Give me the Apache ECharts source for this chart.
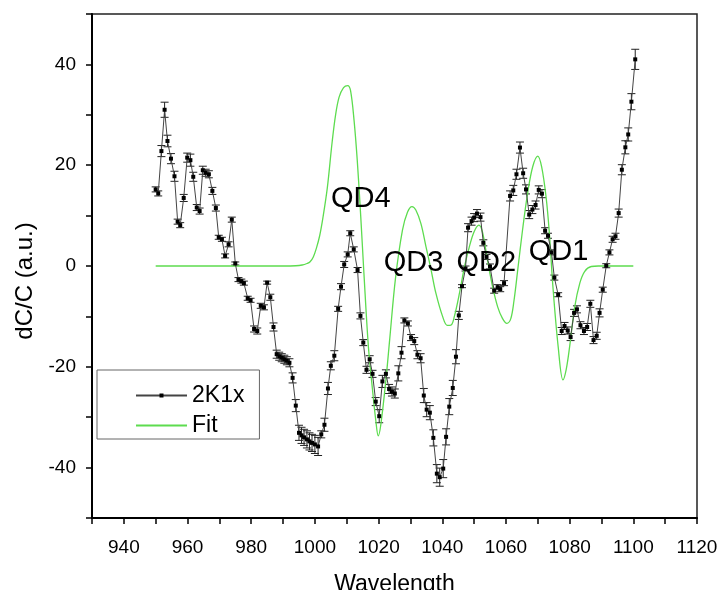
<!DOCTYPE html>
<html><head><meta charset="utf-8">
<script src="https://cdn.jsdelivr.net/npm/echarts@6/dist/echarts.min.js"></script>
<style>html,body{margin:0;padding:0;background:#fff}#c{width:719px;height:590px}</style>
</head><body><div id="c"></div>
<script>
// measured data (2K1x) : wavelength, dC/C and error
const wavelength = [950.0,950.8,951.8,952.8,953.7,954.8,955.9,956.9,957.7,958.8,959.9,960.9,961.8,962.9,963.8,964.8,965.7,966.7,967.8,968.9,969.8,970.8,971.8,972.9,973.9,975.0,976.0,976.9,977.7,978.9,979.8,980.9,981.9,983.0,984.0,985.0,986.0,987.0,988.0,988.8,989.6,990.4,991.2,992.0,993.0,994.0,995.0,995.8,996.6,997.5,998.3,999.1,1000.0,1001.0,1002.0,1003.0,1004.1,1005.0,1006.1,1007.3,1008.2,1009.2,1010.3,1011.1,1012.2,1013.4,1014.3,1015.2,1016.2,1017.2,1018.1,1019.1,1020.2,1021.2,1022.3,1023.3,1024.2,1025.1,1026.2,1027.2,1028.1,1029.2,1030.2,1031.2,1032.2,1033.2,1034.2,1035.1,1036.1,1037.2,1038.3,1039.2,1040.3,1041.2,1042.2,1043.3,1044.3,1045.2,1046.2,1047.3,1048.1,1049.2,1050.0,1050.9,1052.0,1052.9,1053.9,1055.0,1056.3,1057.4,1058.2,1059.4,1061.3,1062.3,1063.3,1064.4,1065.4,1066.3,1067.3,1068.3,1069.3,1070.3,1071.3,1072.3,1073.2,1074.3,1075.2,1076.4,1077.5,1078.4,1079.4,1080.3,1081.4,1082.3,1083.4,1084.5,1085.5,1086.5,1087.5,1088.5,1089.4,1090.4,1091.5,1092.5,1093.5,1094.4,1095.4,1096.4,1097.5,1098.4,1099.4,1100.6];
const dcc = [15.2,14.4,22.8,31.0,24.8,21.3,17.8,8.8,8.1,13.5,21.5,21.0,17.7,11.6,10.9,19.0,18.5,18.2,14.9,11.5,5.7,5.3,2.0,4.3,9.2,0.5,-2.7,-3.0,-3.4,-6.4,-6.8,-12.5,-12.9,-7.9,-8.2,-3.3,-6.2,-12.1,-17.5,-17.9,-18.2,-18.5,-18.8,-19.2,-22.2,-27.7,-33.1,-33.6,-34.0,-34.4,-34.8,-35.1,-35.4,-35.8,-33.4,-31.5,-24.3,-19.8,-17.8,-8.5,-4.1,0.3,2.3,6.5,3.3,-0.8,-9.9,-15.2,-20.6,-18.5,-21.4,-26.9,-29.8,-22.9,-21.4,-24.4,-24.9,-25.3,-21.3,-17.2,-10.8,-11.4,-14.2,-14.9,-17.6,-18.3,-25.7,-28.5,-29.1,-34.1,-41.2,-41.9,-40.2,-33.9,-27.9,-24.2,-18.0,-9.8,-4.0,-0.5,7.6,8.9,9.6,10.4,9.7,4.6,1.8,-0.1,-4.9,-4.2,-4.6,-3.4,13.9,15.0,18.2,23.5,18.4,15.2,10.2,11.2,12.1,15.1,14.35,7.0,6.0,2.7,-2.3,-5.7,-12.9,-11.9,-12.8,-14.1,-9.3,-8.6,-11.75,-12.9,-12.1,-7.5,-14.7,-13.85,-9.3,-4.7,0.05,2.7,5.3,5.9,10.5,19.1,23.55,26.1,32.6,41.0];
const dccErr = [0.5,0.5,1.1,1.5,1.15,1.0,1.0,0.5,0.5,0.7,0.9,1.2,0.9,0.6,0.6,0.8,0.7,0.7,0.7,0.6,0.4,0.4,0.4,0.5,0.5,0.3,0.4,0.4,0.4,0.4,0.4,0.6,0.6,0.5,0.5,0.3,0.6,0.8,0.8,0.8,0.8,0.8,0.8,0.8,1.0,1.2,1.5,1.6,1.6,1.7,1.7,1.7,1.8,1.8,0.7,1.3,1.2,0.8,1.0,0.5,0.6,0.6,0.5,0.5,0.5,0.5,0.6,0.6,0.7,0.7,0.7,0.8,1.3,1.2,0.8,0.9,0.9,0.9,1.5,1.2,0.5,0.5,0.6,0.7,0.8,0.9,1.4,1.4,1.4,1.6,1.8,1.8,1.8,1.6,1.6,1.5,1.4,0.8,0.3,0.5,0.8,0.8,0.8,0.8,0.8,0.6,0.5,0.5,0.5,0.5,0.5,0.5,1.0,1.0,1.0,1.1,1.0,0.9,0.8,0.8,0.8,0.8,0.8,0.6,0.5,0.5,0.5,0.4,0.7,0.7,0.7,0.7,0.7,0.7,0.7,0.7,0.7,0.7,0.7,0.7,0.8,0.5,0.4,0.5,0.6,0.6,0.8,1.0,1.3,1.3,1.6,2.0];

// fit curve
const fitX = [950,970,990,994,996,997.5,998.5,999.5,1000.5,1001.5,1002.5,1003.9,1005.4,1006.5,1007.6,1009,1010.3,1011.2,1012.3,1013.3,1014.4,1015.4,1016.8,1018.1,1019.1,1019.9,1020.7,1022.3,1023.5,1025.3,1027.5,1029.1,1030.5,1031.7,1033.3,1034.9,1036.5,1038.0,1040.1,1041.6,1042.8,1043.8,1045.4,1047.0,1048.5,1050.0,1051.5,1052.6,1054.2,1055.8,1057.4,1058.9,1060.3,1061.5,1062.5,1063.7,1065.2,1066.8,1068.4,1070.0,1071.2,1072.6,1073.6,1074.8,1076.4,1077.9,1078.9,1080.0,1081.6,1083.2,1084.7,1086.8,1089,1095,1100];
const fitY = [0,0,0,0.05,0.2,0.5,0.85,1.8,3.6,6.0,9.5,15.5,24.5,30.0,33.5,35.4,35.8,34.8,28.9,21.0,9.8,-1.5,-16.0,-24.6,-30.5,-33.7,-31.5,-22.6,-14.5,-2.5,7.1,10.7,11.8,11.1,8.4,3.8,-0.8,-5.4,-10.0,-11.8,-11.7,-10.0,-5.4,-0.1,3.8,6.8,8.1,6.8,1.2,-4.1,-8.1,-10.4,-11.4,-10.5,-7.0,-0.8,7.1,14.4,19.7,21.8,19.7,13.7,6.8,-4.5,-16.0,-22.6,-20.6,-16.0,-8.1,-3.4,-1.1,-0.1,0,0,0];

// annotation labels (text, anchor in data coordinates)
const annotations = [
  {text: 'QD4', x: 1014.4, y: 13.3},
  {text: 'QD3', x: 1031.0, y: 0.5},
  {text: 'QD2', x: 1053.8, y: 0.5},
  {text: 'QD1', x: 1076.5, y: 2.8}
];

const FONT = '"Liberation Sans", Arial, sans-serif';
const chart = echarts.init(document.getElementById('c'), null, {renderer: 'canvas'});

const measured = wavelength.map((x, i) => [x, dcc[i]]);
const errData = wavelength.map((x, i) => [x, dcc[i], dccErr[i]]);
const fitData = fitX.map((x, i) => [x, fitY[i]]);

chart.setOption({
  animation: false,
  backgroundColor: '#fff',
  textStyle: {fontFamily: FONT},
  grid: {left: 92, right: 22, top: 14, bottom: 72, show: true, borderColor: '#222', borderWidth: 1.5,
         containLabel: false, outerBoundsMode: 'none'},
  legend: {
    orient: 'vertical', left: 97, top: 370,
    padding: [14, 15, 2, 38],
    itemWidth: 51, itemHeight: 5, itemGap: 7,
    borderColor: '#666', borderWidth: 1,
    textStyle: {fontSize: 23, lineHeight: 23, color: '#000', fontFamily: FONT},
    data: [{name: '2K1x'}, {name: 'Fit', itemStyle: {opacity: 0}}]
  },
  xAxis: {
    type: 'value', min: 930, max: 1120, interval: 10,
    name: 'Wavelength', nameLocation: 'middle', nameGap: 55,
    nameTextStyle: {fontSize: 23, color: '#000', fontFamily: FONT},
    axisLine: {onZero: false, lineStyle: {color: '#000', width: 2}},
    axisTick: {inside: false, length: 6, lineStyle: {color: '#000', width: 1.5}},
    axisLabel: {fontSize: 19, color: '#000', margin: 20, fontFamily: FONT,
      formatter: v => ((v - 940) % 20 === 0 ? String(v) : '')},
    splitLine: {show: false}
  },
  yAxis: {
    type: 'value', min: -50, max: 50, interval: 10,
    name: 'dC/C (a.u.)', nameLocation: 'middle', nameGap: 53, nameRotate: 90,
    nameTextStyle: {fontSize: 24, color: '#000', fontFamily: FONT, padding: [0, 30, 0, 0]},
    axisLine: {onZero: false, lineStyle: {color: '#000', width: 2}},
    axisTick: {inside: false, length: 6, lineStyle: {color: '#000', width: 1.5}},
    axisLabel: {fontSize: 19, color: '#000', margin: 16, fontFamily: FONT,
      formatter: v => (v % 20 === 0 ? String(v) : '')},
    splitLine: {show: false}
  },
  series: [
    {
      name: 'err', type: 'custom', silent: true, z: 2,
      data: errData,
      encode: {x: 0, y: 1},
      renderItem: function (params, api) {
        const x = api.value(0), y = api.value(1), e = api.value(2);
        const t = api.coord([x, y + e]);
        const b = api.coord([x, y - e]);
        const hw = 4;
        const st = {stroke: '#222', lineWidth: 1};
        return {type: 'group', children: [
          {type: 'line', shape: {x1: t[0], y1: t[1], x2: b[0], y2: b[1]}, style: st},
          {type: 'line', shape: {x1: t[0] - hw, y1: t[1], x2: t[0] + hw, y2: t[1]}, style: st},
          {type: 'line', shape: {x1: b[0] - hw, y1: b[1], x2: b[0] + hw, y2: b[1]}, style: st}
        ]};
      }
    },
    {
      name: 'Fit', type: 'line', data: fitData, z: 3,
      symbol: 'none', smooth: 0.35,
      lineStyle: {color: '#5ddc4f', width: 1.3},
      itemStyle: {color: '#5ddc4f'}
    },
    {
      name: '2K1x', type: 'line', data: measured, z: 4,
      symbol: 'rect', symbolSize: 4, showSymbol: true,
      lineStyle: {color: '#444', width: 1},
      itemStyle: {color: '#000'}
    },
    {
      name: 'labels', type: 'scatter', z: 5, silent: true,
      symbolSize: 0,
      itemStyle: {opacity: 1, color: '#000'},
      data: annotations.map(a => ({name: a.text, value: [a.x, a.y]})),
      label: {show: true, position: 'inside', formatter: '{b}', fontSize: 29, color: '#000',
              opacity: 1, fontFamily: FONT}
    }
  ]
});
</script>
</body></html>
